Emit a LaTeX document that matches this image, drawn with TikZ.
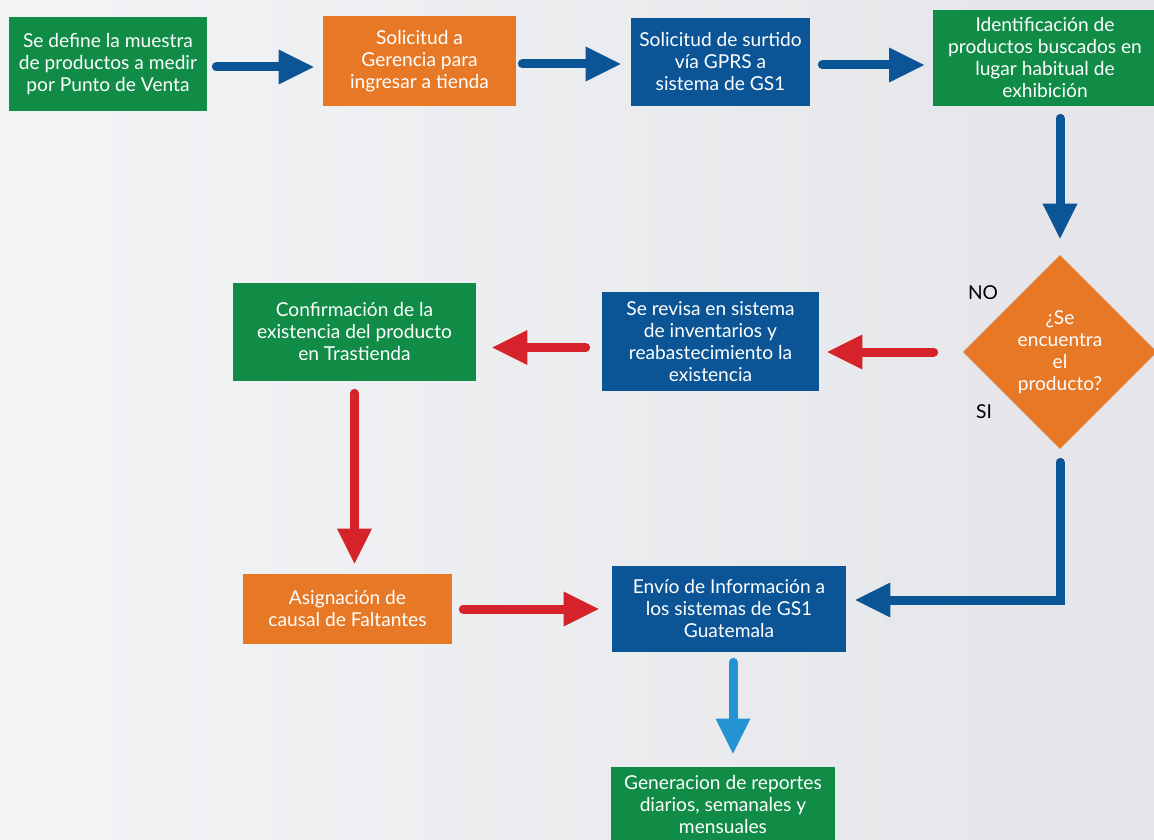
\documentclass[tikz,border=0pt]{standalone}
\usepackage{fontspec}
\setmainfont{Lato}
\usetikzlibrary{positioning, shapes.geometric, arrows.meta, calc}
\definecolor{gsgreen}{HTML}{108C46}
\definecolor{gsorange}{HTML}{E67826}
\definecolor{gsblue}{HTML}{0B5597}
\definecolor{gsred}{HTML}{D6222B}
\definecolor{gslight}{HTML}{2393D4}
\definecolor{gsbgl}{HTML}{F3F4F6}
\definecolor{gsbgr}{HTML}{E3E5E8}

\begin{document}
\begin{tikzpicture}[x=0.6pt, y=-0.6pt,
          box/.style={text=white, font=\fontsize{11.5}{13.2}\selectfont, align=center, inner sep=0pt},
          gbox/.style={box, fill=gsgreen},
          obox/.style={box, fill=gsorange},
          bbox/.style={box, fill=gsblue},
          dec/.style={box, diamond, fill=gsorange, minimum width=116.4pt, minimum height=116.4pt},
          lbl/.style={font=\fontsize{11.5}{13.2}\selectfont, text=black},
          arr/.style={line width=5.4pt, line cap=round, -{Triangle[length=21.6pt, width=19.2pt]}},
          barr/.style={arr, gsblue},
          rarr/.style={arr, gsred},
          larr/.style={arr, gslight}]
        \useasboundingbox (0,0) rectangle (1154,840);
        \shade[left color=gsbgl, right color=gsbgr] (0,0) rectangle (1154,840);
        % top row
        \node[gbox, minimum width=118.8pt, minimum height=56.4pt] (muestra) at (108,64) {Se define la muestra\\de productos a medir\\por Punto de Venta};
        \node[obox, minimum width=115.8pt, minimum height=54pt] (gerencia) at (419.5,61) {Solicitud a\\Gerencia para\\ingresar a tienda};
        \node[bbox, minimum width=107.4pt, minimum height=52.8pt] (surtido) at (720.5,62) {Solicitud de surtido\\vía GPRS a\\sistema de GS1};
        \node[gbox, minimum width=135pt, minimum height=57.6pt] (ident) at (1045,58) {Identificación de\\productos buscados en\\lugar habitual de\\exhibición};
        % decision
        \node[dec] (busca) at (1060,352) {¿Se\\encuentra\\el\\producto?};
        \node[lbl] (no) at (983,293) {NO};
        \node[lbl] (si) at (984,412) {SI};
        % middle row
        \node[bbox, minimum width=130.2pt, minimum height=59.4pt] (revisa) at (710.5,341.5) {Se revisa en sistema\\de inventarios y\\reabastecimiento la\\existencia};
        \node[gbox, minimum width=145.8pt, minimum height=58.8pt] (confirma) at (354.5,332) {Confirmación de la\\existencia del producto\\en Trastienda};
        % bottom rows
        \node[obox, minimum width=125.4pt, minimum height=42pt] (causal) at (347.5,609) {Asignación de\\causal de Faltantes};
        \node[bbox, minimum width=140.4pt, minimum height=51.6pt] (envio) at (729,609) {Envío de Información a\\los sistemas de GS1\\Guatemala};
        \node[gbox, minimum width=134.4pt, minimum height=45.6pt] (reporte) at (723,805) {Generacion de reportes\\diarios, semanales y\\mensuales};
        % connectors
        \draw[barr, shorten <=5.4pt, shorten >=4.8pt] ([yshift=-1.8pt]muestra.east) -- ([yshift=-1.8pt]muestra.east -| gerencia.west);
        \draw[barr, shorten <=3.6pt, shorten >=5.4pt] ([yshift=-1.8pt]gerencia.east) -- ([yshift=-1.8pt]gerencia.east -| surtido.west);
        \draw[barr, shorten <=7.2pt, shorten >=4.2pt] ([yshift=-1.8pt]surtido.east) -- ([yshift=-1.8pt]surtido.east -| ident.west);
        \draw[barr, shorten <=7.2pt, shorten >=9pt] (busca.north |- ident.south) -- (busca.north);
        \draw[rarr, shorten <=17.4pt, shorten >=4.2pt] (busca.west) -- (busca.west -| revisa.east);
        \draw[rarr, shorten <=9.6pt, shorten >=9pt] ([yshift=-3.6pt]revisa.west) -- ([yshift=-3.6pt]revisa.west -| confirma.east);
        \draw[rarr, shorten <=7.2pt, shorten >=5.4pt] (confirma.south) -- (confirma.south |- causal.north);
        \draw[rarr, shorten <=6.6pt, shorten >=7.2pt] (causal) -- (envio);
        \draw[barr, shorten <=7.8pt, shorten >=4.8pt] (busca.south) |- ([yshift=5.4pt]envio.east);
        \draw[larr, shorten <=6pt, shorten >=7.2pt] ([xshift=2.4pt]envio.south) -- ([xshift=2.4pt]envio.south |- reporte.north);
\end{tikzpicture}
\end{document}
